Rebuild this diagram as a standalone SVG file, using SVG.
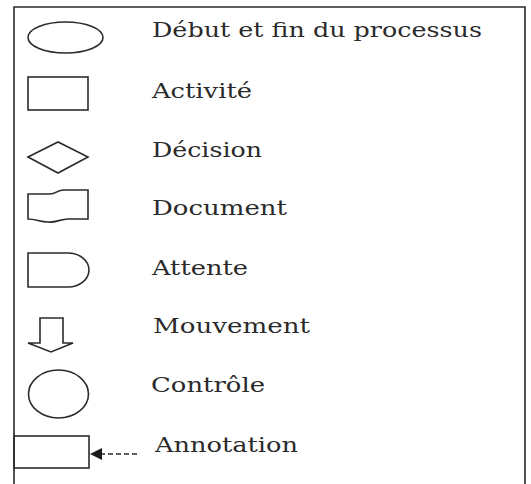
<svg xmlns="http://www.w3.org/2000/svg" width="531" height="484" viewBox="0 0 531 484">
<defs>
<style>
.s{fill:none;stroke:#2b2b2b;stroke-width:1.6}
.t{font-family:"DejaVu Serif","Liberation Serif",serif;font-size:20px;fill:#2a2a2a}
</style>
<marker id="ah" viewBox="0 0 10 10" refX="10" refY="5" markerWidth="13" markerHeight="12" markerUnits="userSpaceOnUse" orient="auto">
<path d="M0,0 L10,5 L0,10 z" fill="#1a1a1a"/>
</marker>
</defs>
<rect width="531" height="484" fill="#fff"/>
<path class="s" d="M14,484 V7 H525 V484"/>
<g id="debut"><ellipse class="s" cx="65.5" cy="37.5" rx="37.5" ry="15.5"/><text class="t" x="152" y="37" textLength="330" lengthAdjust="spacingAndGlyphs">Début et fin du processus</text></g>
<g id="activite"><rect class="s" x="28" y="77" width="60" height="33"/><text class="t" x="152" y="98" textLength="100" lengthAdjust="spacingAndGlyphs">Activité</text></g>
<g id="decision"><path class="s" d="M28,157 L58,142 L88,157 L58,173 Z"/><text class="t" x="152" y="157" textLength="110" lengthAdjust="spacingAndGlyphs">Décision</text></g>
<g id="document"><path class="s" d="M28,194 H50 C56,194 57,190 64,190 H88 V219 H68 C60,219 56,223 48,222 C40,222 36,219 28,219 Z"/><text class="t" x="152" y="215" textLength="135" lengthAdjust="spacingAndGlyphs">Document</text></g>
<g id="attente"><path class="s" d="M28,253 H68 C80,253 89,261 89,270 C89,279 80,287 68,287 H28 Z"/><text class="t" x="152" y="275" textLength="96" lengthAdjust="spacingAndGlyphs">Attente</text></g>
<g id="mouvement"><path class="s" d="M40,318 H63 V343 H73 L51,352 L28,343 H40 Z"/><text class="t" x="153" y="333" textLength="157" lengthAdjust="spacingAndGlyphs">Mouvement</text></g>
<g id="controle"><ellipse class="s" cx="58.5" cy="394" rx="30" ry="24"/><text class="t" x="151" y="392" textLength="114" lengthAdjust="spacingAndGlyphs">Contrôle</text></g>
<g id="annotation"><rect class="s" x="14" y="436" width="75" height="32"/><text class="t" x="155" y="452" textLength="143" lengthAdjust="spacingAndGlyphs">Annotation</text></g>
<g id="connectors"><line x1="137" y1="454" x2="90" y2="454" stroke="#2b2b2b" stroke-width="1.6" stroke-dasharray="5,3" marker-end="url(#ah)"/></g>
</svg>
